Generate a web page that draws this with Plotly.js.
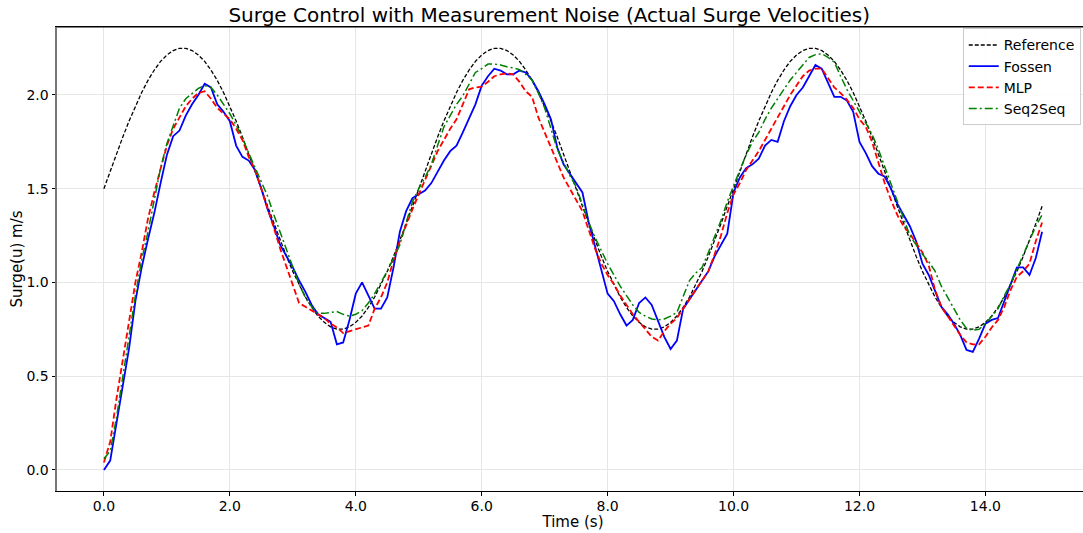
<!DOCTYPE html>
<html>
<head>
<meta charset="utf-8">
<script src="https://cdn.plot.ly/plotly-3.0.1.min.js"></script>
<style>
html,body{margin:0;padding:0;background:#fff;overflow:hidden;width:1083px;height:533px;}
#chart{width:1090px;height:533px;}
</style>
</head>
<body>
<div id="chart"></div>
<script>
const time = [0.0,0.1,0.2,0.3,0.4,0.5,0.6,0.7,0.8,0.9,1.0,1.1,1.2,1.3,1.4,1.5,1.6,1.7,1.8,1.9,
2.0,2.1,2.2,2.3,2.4,2.5,2.6,2.7,2.8,2.9,3.0,3.1,3.2,3.3,3.4,3.5,3.6,3.7,3.8,3.9,
4.0,4.1,4.2,4.3,4.4,4.5,4.6,4.7,4.8,4.9,5.0,5.1,5.2,5.3,5.4,5.5,5.6,5.7,5.8,5.9,
6.0,6.1,6.2,6.3,6.4,6.5,6.6,6.7,6.8,6.9,7.0,7.1,7.2,7.3,7.4,7.5,7.6,7.7,7.8,7.9,
8.0,8.1,8.2,8.3,8.4,8.5,8.6,8.7,8.8,8.9,9.0,9.1,9.2,9.3,9.4,9.5,9.6,9.7,9.8,9.9,
10.0,10.1,10.2,10.3,10.4,10.5,10.6,10.7,10.8,10.9,11.0,11.1,11.2,11.3,11.4,11.5,11.6,11.7,11.8,11.9,
12.0,12.1,12.2,12.3,12.4,12.5,12.6,12.7,12.8,12.9,13.0,13.1,13.2,13.3,13.4,13.5,13.6,13.7,13.8,13.9,
14.0,14.1,14.2,14.3,14.4,14.5,14.6,14.7,14.8,14.9];

const reference = [
1.500,1.594,1.687,1.776,1.861,1.941,2.013,2.078,2.133,2.179,2.213,2.237,2.249,2.249,2.237,2.213,2.179,2.133,2.078,2.013,
1.941,1.861,1.776,1.687,1.594,1.500,1.406,1.313,1.224,1.139,1.059,0.987,0.922,0.867,0.821,0.787,0.763,0.751,0.751,0.763,
0.787,0.821,0.867,0.922,0.987,1.059,1.139,1.224,1.313,1.406,
1.500,1.594,1.687,1.776,1.861,1.941,2.013,2.078,2.133,2.179,2.213,2.237,2.249,2.249,2.237,2.213,2.179,2.133,2.078,2.013,
1.941,1.861,1.776,1.687,1.594,1.500,1.406,1.313,1.224,1.139,1.059,0.987,0.922,0.867,0.821,0.787,0.763,0.751,0.751,0.763,
0.787,0.821,0.867,0.922,0.987,1.059,1.139,1.224,1.313,1.406,
1.500,1.594,1.687,1.776,1.861,1.941,2.013,2.078,2.133,2.179,2.213,2.237,2.249,2.249,2.237,2.213,2.179,2.133,2.078,2.013,
1.941,1.861,1.776,1.687,1.594,1.500,1.406,1.313,1.224,1.139,1.059,0.987,0.922,0.867,0.821,0.787,0.763,0.751,0.751,0.763,
0.787,0.821,0.867,0.922,0.987,1.059,1.139,1.224,1.313,1.406];

const fossen = [
0.00,0.05,0.25,0.45,0.65,0.90,1.08,1.23,1.37,1.53,1.68,1.78,1.81,1.89,1.95,2.00,2.06,2.04,1.95,1.91,
1.86,1.73,1.67,1.65,1.60,1.50,1.39,1.30,1.20,1.14,1.08,1.01,0.95,0.88,0.83,0.81,0.79,0.67,0.68,0.80,
0.94,1.00,0.93,0.86,0.86,0.92,1.08,1.27,1.38,1.45,1.47,1.49,1.53,1.59,1.65,1.70,1.73,1.80,1.88,1.95,
2.05,2.10,2.14,2.13,2.11,2.11,2.13,2.12,2.08,2.02,1.95,1.87,1.72,1.63,1.58,1.53,1.48,1.32,1.19,1.06,
0.94,0.90,0.83,0.77,0.80,0.89,0.92,0.88,0.79,0.71,0.645,0.69,0.86,0.91,0.96,1.01,1.06,1.14,1.20,1.26,
1.48,1.56,1.61,1.63,1.66,1.73,1.76,1.75,1.86,1.94,2.00,2.04,2.10,2.16,2.14,2.06,1.99,1.99,1.97,1.91,
1.75,1.69,1.62,1.58,1.565,1.50,1.42,1.36,1.30,1.22,1.10,1.04,0.95,0.87,0.83,0.78,0.72,0.64,0.63,0.70,
0.78,0.80,0.81,0.90,0.99,1.08,1.08,1.04,1.13,1.27];

const mlp = [
0.04,0.15,0.38,0.58,0.78,1.00,1.16,1.34,1.48,1.60,1.73,1.82,1.88,1.94,1.98,2.01,2.02,1.98,1.93,1.90,
1.87,1.82,1.76,1.67,1.60,1.50,1.40,1.29,1.18,1.08,0.99,0.89,0.87,0.85,0.83,0.81,0.78,0.76,0.73,0.74,
0.75,0.76,0.77,0.86,0.92,1.00,1.12,1.22,1.31,1.39,1.47,1.55,1.63,1.70,1.76,1.82,1.87,1.95,2.03,2.04,
2.045,2.07,2.10,2.11,2.115,2.11,2.07,2.02,1.99,1.88,1.80,1.73,1.65,1.56,1.50,1.44,1.38,1.28,1.18,1.10,
1.04,0.99,0.93,0.88,0.83,0.79,0.75,0.71,0.69,0.74,0.78,0.81,0.86,0.91,0.96,1.01,1.06,1.15,1.25,1.37,
1.47,1.53,1.60,1.65,1.70,1.76,1.82,1.88,1.94,2.00,2.05,2.10,2.13,2.14,2.14,2.09,2.04,2.01,1.975,1.93,
1.87,1.83,1.75,1.64,1.53,1.44,1.36,1.30,1.26,1.21,1.16,1.09,0.96,0.87,0.82,0.77,0.72,0.68,0.67,0.67,
0.71,0.76,0.80,0.87,0.96,1.03,1.06,1.10,1.22,1.32];

const seq2seq = [
0.06,0.10,0.28,0.50,0.73,0.93,1.12,1.27,1.44,1.61,1.74,1.83,1.93,1.98,2.01,2.035,2.05,2.04,2.00,1.95,
1.90,1.84,1.77,1.69,1.61,1.54,1.46,1.36,1.27,1.17,1.08,0.99,0.92,0.87,0.835,0.835,0.84,0.845,0.83,0.82,
0.83,0.85,0.89,0.94,1.00,1.06,1.13,1.20,1.32,1.43,1.50,1.56,1.63,1.73,1.83,1.89,1.95,1.995,2.06,2.12,
2.14,2.165,2.165,2.16,2.15,2.145,2.135,2.11,2.08,2.01,1.93,1.82,1.71,1.64,1.57,1.51,1.41,1.32,1.24,1.17,
1.10,1.04,0.98,0.93,0.88,0.84,0.82,0.805,0.80,0.805,0.82,0.84,0.92,1.01,1.05,1.08,1.16,1.24,1.33,1.43,
1.52,1.60,1.68,1.75,1.80,1.87,1.93,1.98,2.03,2.08,2.12,2.16,2.20,2.215,2.22,2.20,2.175,2.10,2.03,1.97,
1.91,1.85,1.79,1.71,1.62,1.52,1.43,1.34,1.25,1.20,1.15,1.11,1.06,0.98,0.92,0.86,0.80,0.755,0.745,0.75,
0.78,0.82,0.86,0.93,0.99,1.07,1.15,1.23,1.30,1.36];

const seriesNames = ["Reference","Fossen","MLP","Seq2Seq"];
const xTicks = [0,2,4,6,8,10,12,14];
const yTicks = [0,0.5,1.0,1.5,2.0];

const traces = [
  {x: time, y: reference, name: seriesNames[0], mode: "lines", line: {color: "#000000", width: 1.3, dash: "4px,2px"}},
  {x: time, y: fossen, name: seriesNames[1], mode: "lines", line: {color: "#0000ff", width: 1.8}},
  {x: time, y: mlp, name: seriesNames[2], mode: "lines", line: {color: "#ff0000", width: 1.8, dash: "6px,3px"}},
  {x: time, y: seq2seq, name: seriesNames[3], mode: "lines", line: {color: "#008000", width: 1.5, dash: "8px,3px,2px,3px"}}
];

const font = {family: "DejaVu Sans, sans-serif", size: 14, color: "#000"};
const layout = {
  width: 1090, height: 533,
  margin: {l: 57, r: 1, t: 27, b: 42, pad: 0},
  paper_bgcolor: "#fff", plot_bgcolor: "#fff",
  font: font,
  showlegend: true,
  title: {text: "Surge Control with Measurement Noise (Actual Surge Velocities)", font: {family: "DejaVu Sans, sans-serif", size: 20, color: "#000"},
          x: 0.477, xref: "paper", xanchor: "center", y: 1, yref: "paper", yanchor: "bottom", pad: {b: 5}},
  xaxis: {
    range: [-0.745, 15.645], tickvals: xTicks, tickformat: ".1f",
    showgrid: true, gridcolor: "#e6e6e6", gridwidth: 1, zeroline: false,
    showline: true, linecolor: "#000", linewidth: 1.2, mirror: true,
    ticks: "outside", ticklen: 3.5, tickcolor: "#000", tickwidth: 1,
    ticklabelstandoff: -2,
    tickfont: {family: "DejaVu Sans, sans-serif", size: 14, color: "#000"},
    title: {text: "Time (s)", font: {family: "DejaVu Sans, sans-serif", size: 15, color: "#000"}, standoff: 0}
  },
  yaxis: {
    range: [-0.1125, 2.3625], tickvals: yTicks, tickformat: ".1f",
    showgrid: true, gridcolor: "#e6e6e6", gridwidth: 1, zeroline: false,
    showline: true, linecolor: "#777", linewidth: 2, mirror: false,
    ticks: "outside", ticklen: 3.5, tickcolor: "#000", tickwidth: 1,
    tickfont: {family: "DejaVu Sans, sans-serif", size: 14, color: "#000"},
    title: {text: "Surge(u) m/s", font: {family: "DejaVu Sans, sans-serif", size: 15, color: "#000"}, standoff: 0}
  },
  legend: {
    x: 0.992, xanchor: "right", y: 0.997, yanchor: "top",
    bgcolor: "rgba(255,255,255,0.85)", bordercolor: "#cccccc", borderwidth: 1,
    font: {family: "DejaVu Sans, sans-serif", size: 14, color: "#000"},
    tracegroupgap: 0, itemwidth: 30
  },
  shapes: [
    {type: "line", xref: "paper", yref: "paper", x0: 0, x1: 1, y0: 1, y1: 1, line: {color: "#000", width: 1.2}}
  ]
};

Plotly.newPlot("chart", traces, layout, {displayModeBar: false, staticPlot: true});
</script>
</body>
</html>
